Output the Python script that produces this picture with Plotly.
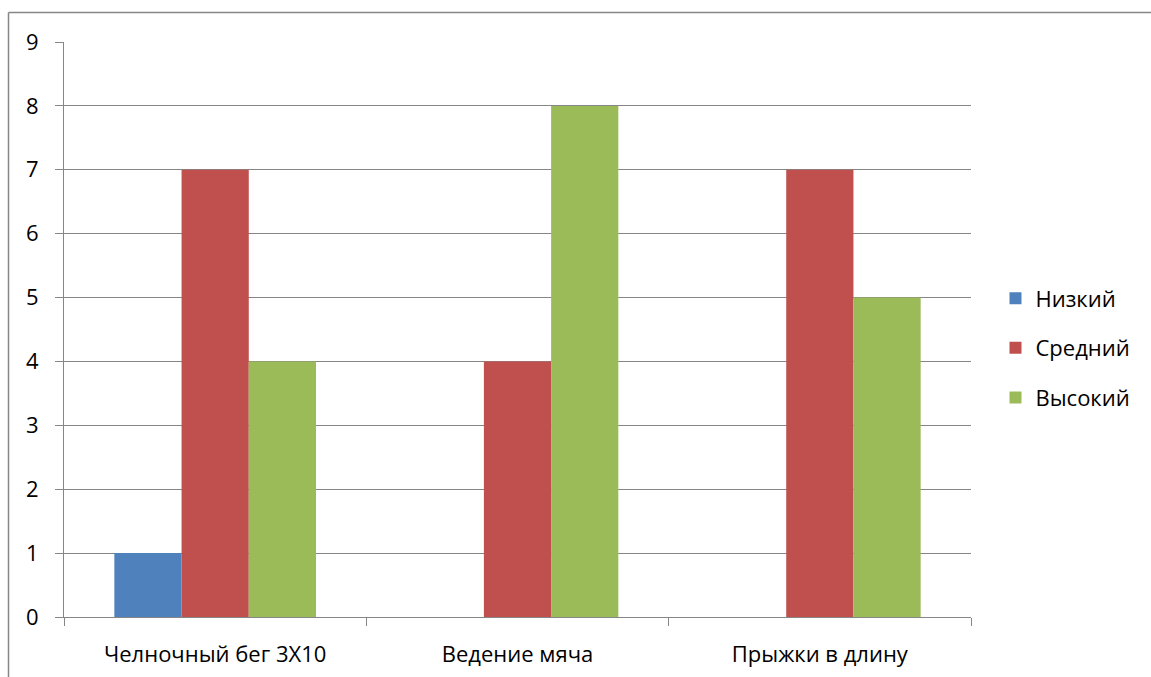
import plotly.graph_objects as go

categories = ["Челночный бег 3Х10", "Ведение мяча", "Прыжки в длину"]
low = [1, 0, 0]
mid = [7, 4, 7]
high = [4, 8, 5]
series_names = ["Низкий", "Средний", "Высокий"]
colors = ["#4F81BD", "#C0504D", "#9BBB59"]

FONT = "Open Sans"
fig = go.Figure()
for i, (name, vals, col) in enumerate(zip(series_names, [low, mid, high], colors)):
    fig.add_trace(go.Bar(x=categories, y=vals, name=name, marker_color=col,
                         marker_line_width=0, legendgroup=f"g{i}"))

bx = (8.5 - 64) / 907
by = (617 - 12.5) / 575
fig.update_layout(
    width=1151, height=677,
    margin=dict(l=64, r=180, t=42, b=60, autoexpand=False),
    paper_bgcolor="white", plot_bgcolor="white",
    barmode="group", bargap=0.333, bargroupgap=0,
    font=dict(family=FONT, size=22, color="black"),
    showlegend=True,
    legend=dict(x=1.027, y=0.468, xanchor="left", yanchor="middle",
                font=dict(size=22), tracegroupgap=18, itemwidth=30),
    shapes=[
        dict(type="line", xref="paper", yref="paper", x0=bx, x1=1.2, y0=by, y1=by,
             line=dict(color="#868686", width=1.5)),
        dict(type="line", xref="paper", yref="paper", x0=bx, x1=bx, y0=-0.2, y1=by,
             line=dict(color="#868686", width=1.5)),
    ],
)
fig.update_yaxes(range=[0, 9], dtick=1, showgrid=True, gridcolor="#868686", gridwidth=1.2,
                 showline=True, linecolor="#868686", linewidth=1.2,
                 ticks="outside", ticklen=8, tickcolor="#868686",
                 ticklabelstandoff=12, zeroline=False, automargin=False)
fig.update_xaxes(showline=True, linecolor="#868686", linewidth=1.2,
                 ticks="outside", ticklen=8, tickcolor="#868686",
                 tickson="boundaries", showgrid=False, ticklabelstandoff=17,
                 automargin=False)

fig.write_html("out.html", config={"displayModeBar": False})
